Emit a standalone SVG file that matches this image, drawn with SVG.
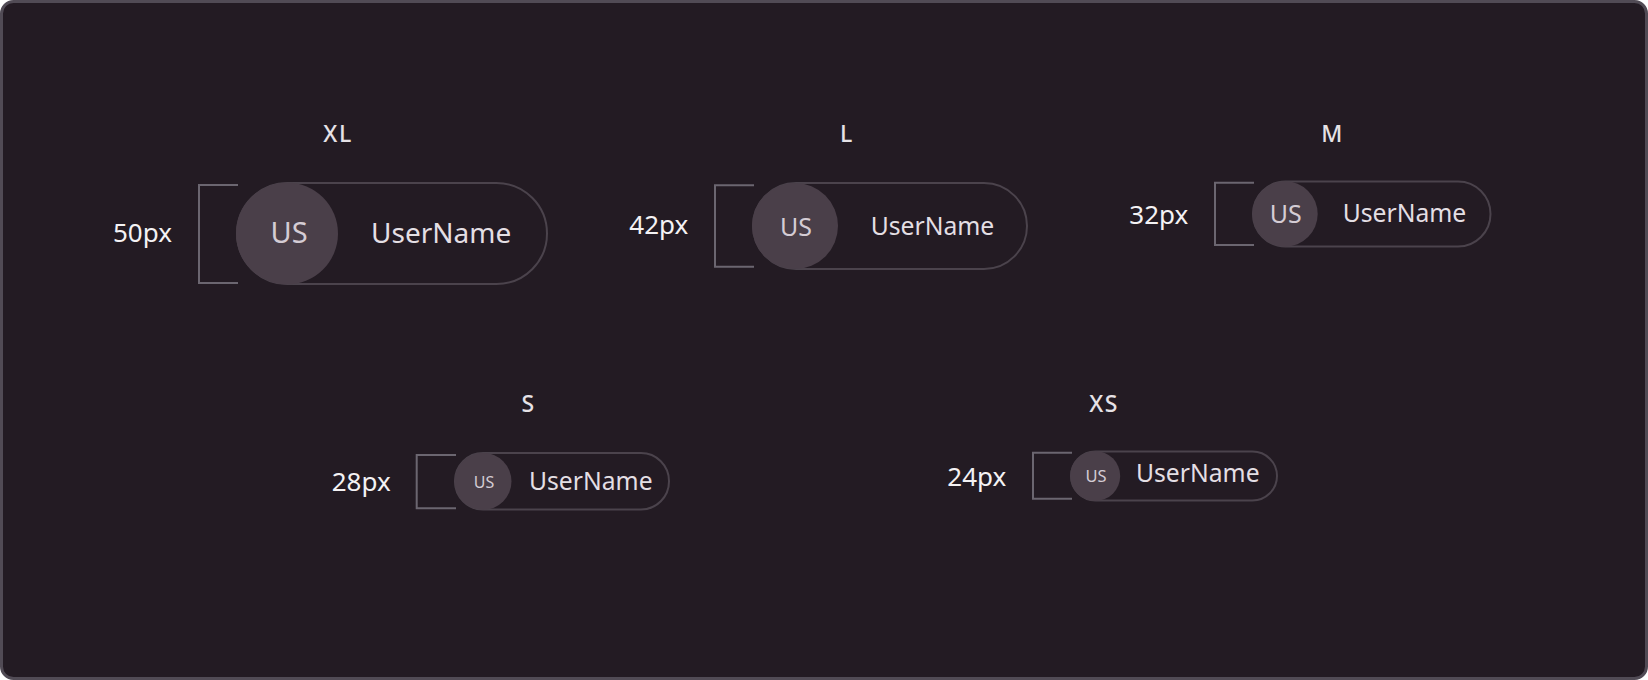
<svg xmlns="http://www.w3.org/2000/svg" width="1648" height="680" viewBox="0 0 1648 680">
<style>
text{font-family:"Noto Sans","Open Sans","Liberation Sans",sans-serif}
.title{font-size:23px;font-weight:500;letter-spacing:1.5px;fill:#e6e2e6;text-anchor:middle}
.size{font-size:26px;fill:#f4f2f4}
.pill{fill:none;stroke:#4b434c;stroke-width:2}
.avatar{fill:#4a3f49}
.bracket{fill:none;stroke:#6b6670;stroke-width:2}
.ini{fill:#d4ccd4;text-anchor:middle}
.name{fill:#e4dfe4}
</style>
<rect x="1.5" y="1.5" width="1645" height="677" rx="12" fill="#231b23" stroke="#514b55" stroke-width="3"/>
<g id="connectors"></g>
<g id="xl">
<text class="title" x="338" y="142">XL</text>
<text class="size" x="113" y="242">50px</text>
<path class="bracket" d="M238 185H199V283H238"/>
<rect class="pill" x="237" y="183" width="310" height="101" rx="50.5"/>
<circle class="avatar" cx="287" cy="233.5" r="51"/>
<text class="ini" x="289" y="243.3" font-size="29">US</text>
<text class="name" x="371" y="243.3" font-size="28">UserName</text>
</g>
<g id="l">
<text class="title" x="847" y="142.3">L</text>
<text class="size" x="629.3" y="234">42px</text>
<path class="bracket" d="M754 185.3H715V266.7H754"/>
<rect class="pill" x="753" y="183" width="274" height="86" rx="43"/>
<circle class="avatar" cx="795" cy="226" r="43"/>
<text class="ini" x="796" y="235.7" font-size="25">US</text>
<text class="name" x="870.7" y="234.5" font-size="24.7">UserName</text>
</g>
<g id="m">
<text class="title" x="1332.5" y="142.3">M</text>
<text class="size" x="1129.3" y="224.3">32px</text>
<path class="bracket" d="M1254 182.7H1215V245H1254"/>
<rect class="pill" x="1253" y="181.5" width="237.5" height="65" rx="32.5"/>
<circle class="avatar" cx="1285" cy="214" r="32.7"/>
<text class="ini" x="1285.7" y="223.3" font-size="25">US</text>
<text class="name" x="1342.7" y="222.3" font-size="24.7">UserName</text>
</g>
<g id="s">
<text class="title" x="528.5" y="412.3">S</text>
<text class="size" x="331.7" y="491">28px</text>
<path class="bracket" d="M456 455H416.7V508.3H456"/>
<rect class="pill" x="455" y="453" width="214" height="56.5" rx="28"/>
<circle class="avatar" cx="483" cy="481.3" r="28.5"/>
<text class="ini" x="484" y="487.7" font-size="16">US</text>
<text class="name" x="529" y="490" font-size="24.7">UserName</text>
</g>
<g id="xs">
<text class="title" x="1104" y="411.7">XS</text>
<text class="size" x="947.3" y="485.7">24px</text>
<path class="bracket" d="M1072 452.7H1033V498.7H1072"/>
<rect class="pill" x="1071" y="451.5" width="206" height="49" rx="24.5"/>
<circle class="avatar" cx="1095.2" cy="476" r="25"/>
<text class="ini" x="1096" y="482.3" font-size="16.5">US</text>
<text class="name" x="1136" y="482.3" font-size="24.7">UserName</text>
</g>
</svg>
